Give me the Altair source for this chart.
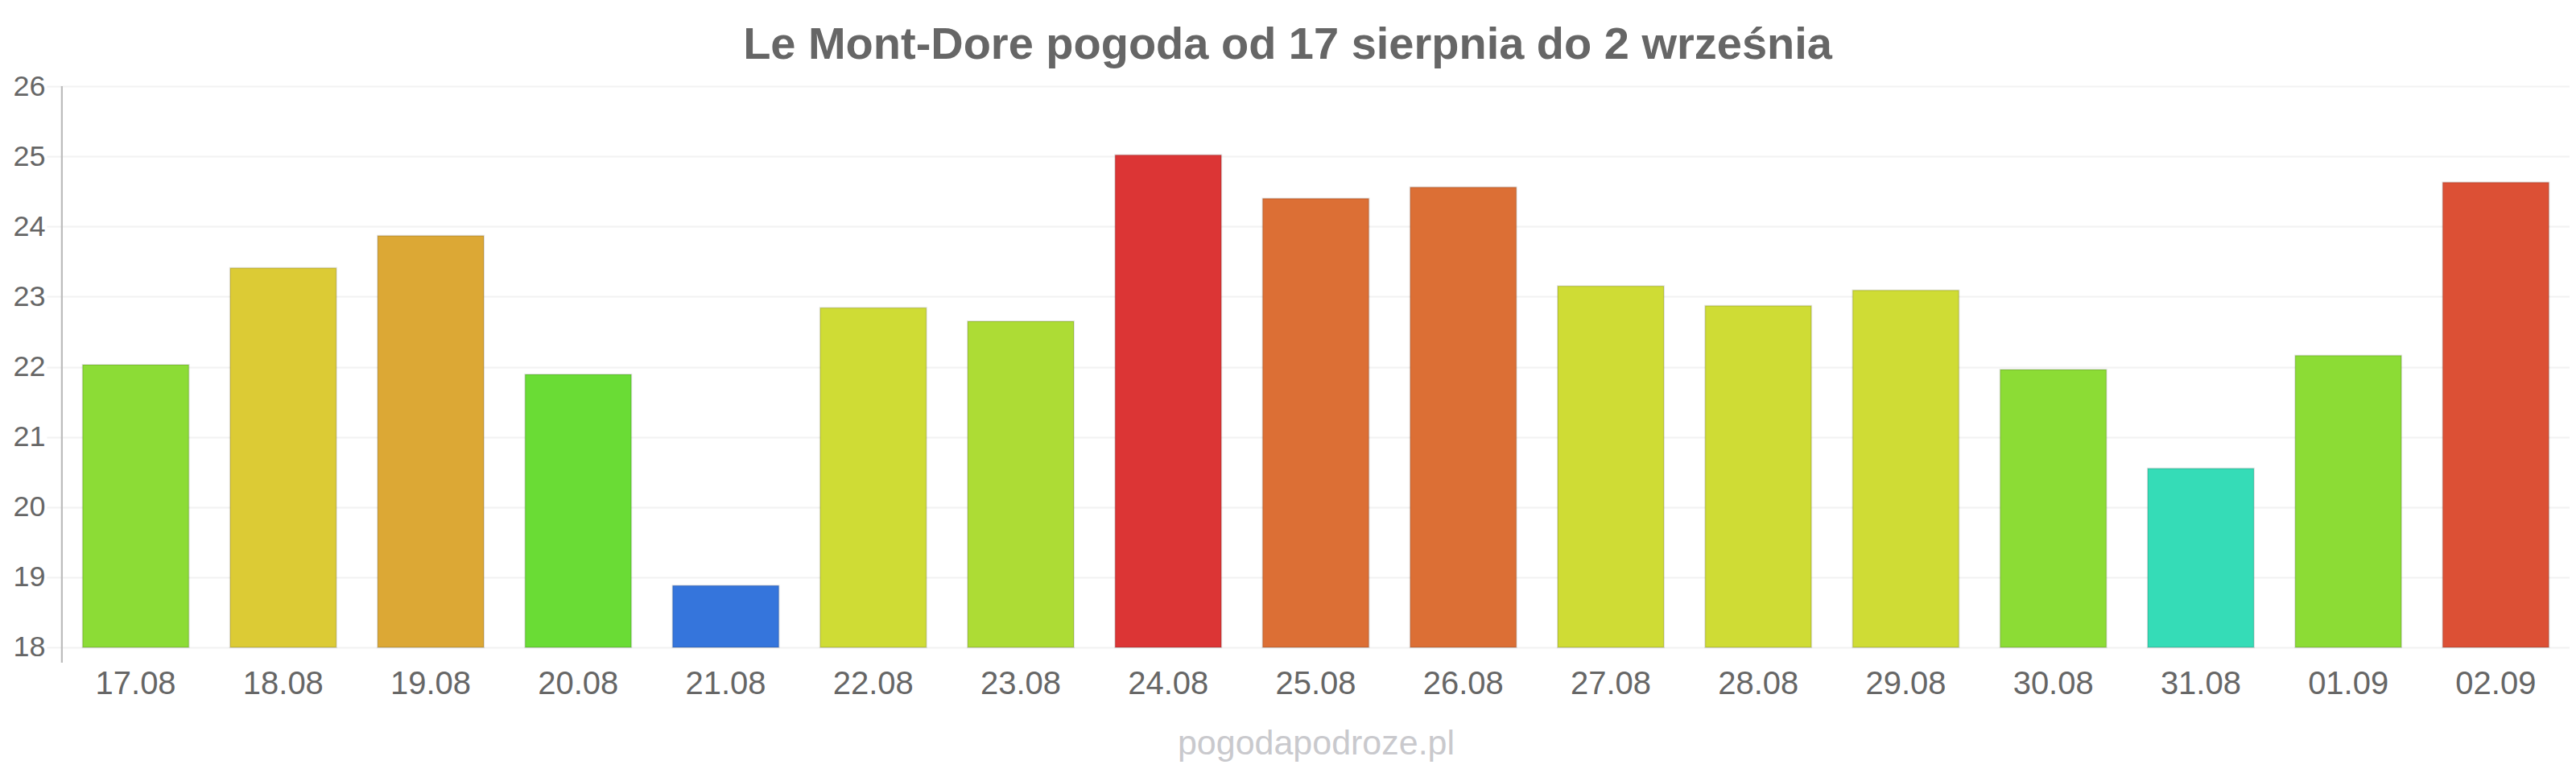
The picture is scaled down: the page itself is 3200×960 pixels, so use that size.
import altair as alt
import pandas as pd

# daily temperatures
days = ["17.08", "18.08", "19.08", "20.08", "21.08", "22.08", "23.08", "24.08", "25.08",
        "26.08", "27.08", "28.08", "29.08", "30.08", "31.08", "01.09", "02.09"]
temps = [22.03, 23.41, 23.87, 21.89, 18.88, 22.84, 22.65, 25.02, 24.40,
         24.56, 23.15, 22.87, 23.09, 21.96, 20.55, 22.16, 24.63]
bar_colors = ["#8cdc36", "#dccb35", "#dca835", "#6adc35", "#3575dc", "#cfdc35", "#addc35",
              "#dc3535", "#dc6f35", "#dc6f35", "#cfdc35", "#cfdc35", "#cfdc35", "#8cdc35",
              "#35dcb7", "#8cdc35", "#dc5035"]
y_ticks = [18, 19, 20, 21, 22, 23, 24, 25, 26]

title_text = "Le Mont-Dore pogoda od 17 sierpnia do 2 września"
watermark = "pogodapodroze.pl"

W, H = 3116, 697
FONT = "Liberation Sans"

df = pd.DataFrame({"day": days, "temp": temps})

bars = alt.Chart(df).mark_bar(
    stroke="black", strokeOpacity=0.12, strokeWidth=2
).encode(
    x=alt.X("day:N", sort=days, title=watermark,
            scale=alt.Scale(paddingInner=0.28, paddingOuter=0.14),
            axis=alt.Axis(labelAngle=0, ticks=False, domain=False, labelPadding=26,
                          labelFontSize=40, labelColor="#666666", labelFont=FONT,
                          titleFont=FONT, titleFontSize=43, titleFontWeight="normal",
                          titleColor="#c9c9cd", titlePadding=33)),
    y=alt.Y("temp:Q", title=None,
            scale=alt.Scale(domain=[18, 26], nice=False, zero=False),
            axis=alt.Axis(values=y_ticks, domain=False, tickSize=19, tickColor="#f2f2f2",
                          tickWidth=2, gridColor="#f2f2f2", gridWidth=2, labelPadding=2,
                          labelFontSize=36, labelColor="#666666", labelFont=FONT)),
    y2=alt.datum(18),
    color=alt.Color("day:N", scale=alt.Scale(domain=days, range=bar_colors), legend=None),
)

# left axis line, running a little below the 18 gridline as in the original
axis_line = alt.Chart(df).mark_rule(color="#bdbdbd", strokeWidth=2).encode(
    x=alt.value(0), y=alt.value(0), y2=alt.value(H + 19)
)

chart = alt.layer(bars, axis_line).properties(
    width=W, height=H,
    autosize=alt.AutoSizeParams(type="none"),
    padding={"left": 69, "top": 99, "right": 0, "bottom": 148},
    title=alt.TitleParams(title_text, font=FONT, fontSize=56, fontWeight="bold",
                          color="#666666", anchor="middle", offset=4, dx=-35),
).configure_view(stroke=None)

chart.save("out.html", embed_options={"renderer": "svg", "actions": False})
